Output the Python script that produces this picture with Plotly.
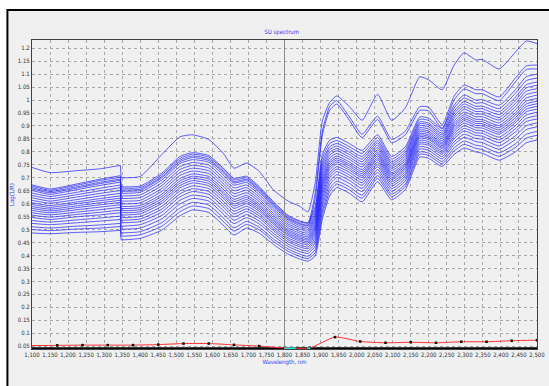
import plotly.graph_objects as go

# Wavelength grid (nm): segment before the detector splice, and after it
wl_seg1 = [1100, 1150, 1220, 1290, 1345]
wl_seg2 = [1347, 1400, 1460, 1510, 1545, 1590, 1630, 1660, 1695, 1730, 1770, 1810,
           1845, 1865, 1885, 1905, 1925, 1945, 1980, 2015, 2058, 2097, 2135, 2175,
           2200, 2237, 2270, 2298, 2330, 2348, 2395, 2440, 2470, 2500]

# Log(1/R) spectra (first 5 values -> wl_seg1, remaining 34 -> wl_seg2)
spec_a = [0.740, 0.720, 0.727, 0.735, 0.748, 0.700, 0.705, 0.790, 0.858, 0.866, 0.848, 0.795, 0.737, 0.757, 0.725, 0.652, 0.610, 0.588, 0.568, 0.680, 0.920, 0.990, 1.016, 0.975, 0.922, 1.022, 0.922, 0.970, 1.090, 1.078, 1.040, 1.135, 1.183, 1.155, 1.157, 1.120, 1.185, 1.228, 1.218]
spec_b1 = [0.668, 0.652, 0.670, 0.690, 0.702, 0.660, 0.662, 0.712, 0.775, 0.791, 0.780, 0.732, 0.692, 0.700, 0.661, 0.602, 0.551, 0.529, 0.525, 0.640, 0.880, 0.975, 0.998, 0.935, 0.868, 0.938, 0.848, 0.880, 0.975, 0.972, 0.905, 1.015, 1.058, 1.040, 1.040, 1.012, 1.085, 1.132, 1.135]
spec_b2 = [0.657, 0.642, 0.659, 0.678, 0.690, 0.648, 0.651, 0.700, 0.762, 0.778, 0.767, 0.720, 0.680, 0.689, 0.650, 0.593, 0.542, 0.520, 0.515, 0.620, 0.865, 0.960, 0.985, 0.922, 0.855, 0.925, 0.835, 0.866, 0.960, 0.958, 0.890, 1.000, 1.043, 1.025, 1.025, 0.998, 1.070, 1.118, 1.120]
spec_01 = [0.673, 0.657, 0.675, 0.695, 0.708, 0.665, 0.668, 0.718, 0.782, 0.797, 0.786, 0.738, 0.698, 0.706, 0.666, 0.607, 0.555, 0.532, 0.527, 0.590, 0.790, 0.845, 0.856, 0.832, 0.806, 0.866, 0.782, 0.820, 0.935, 0.930, 0.890, 0.980, 1.020, 1.000, 1.002, 0.980, 1.040, 1.090, 1.100]
spec_02 = [0.662, 0.647, 0.664, 0.683, 0.695, 0.653, 0.656, 0.705, 0.768, 0.784, 0.773, 0.725, 0.685, 0.694, 0.655, 0.597, 0.546, 0.523, 0.518, 0.578, 0.775, 0.832, 0.844, 0.820, 0.794, 0.855, 0.772, 0.810, 0.926, 0.921, 0.881, 0.969, 1.008, 0.988, 0.990, 0.967, 1.026, 1.075, 1.085]
spec_03 = [0.651, 0.636, 0.653, 0.671, 0.683, 0.640, 0.644, 0.692, 0.755, 0.770, 0.760, 0.711, 0.672, 0.682, 0.644, 0.587, 0.537, 0.514, 0.509, 0.567, 0.760, 0.819, 0.833, 0.809, 0.782, 0.844, 0.762, 0.800, 0.916, 0.911, 0.872, 0.957, 0.995, 0.976, 0.977, 0.955, 1.011, 1.059, 1.070]
spec_04 = [0.641, 0.628, 0.643, 0.660, 0.672, 0.630, 0.634, 0.681, 0.743, 0.759, 0.749, 0.700, 0.661, 0.672, 0.635, 0.579, 0.530, 0.507, 0.502, 0.557, 0.748, 0.808, 0.823, 0.799, 0.772, 0.835, 0.754, 0.792, 0.909, 0.904, 0.865, 0.948, 0.985, 0.966, 0.967, 0.944, 0.999, 1.047, 1.057]
spec_05 = [0.632, 0.619, 0.634, 0.650, 0.662, 0.620, 0.624, 0.670, 0.732, 0.748, 0.738, 0.689, 0.650, 0.662, 0.626, 0.571, 0.522, 0.500, 0.494, 0.548, 0.735, 0.798, 0.813, 0.790, 0.762, 0.826, 0.745, 0.784, 0.901, 0.896, 0.858, 0.938, 0.975, 0.956, 0.956, 0.933, 0.987, 1.034, 1.044]
spec_06 = [0.623, 0.610, 0.625, 0.640, 0.651, 0.610, 0.613, 0.659, 0.720, 0.737, 0.727, 0.678, 0.639, 0.652, 0.617, 0.562, 0.515, 0.492, 0.487, 0.538, 0.723, 0.787, 0.804, 0.780, 0.752, 0.817, 0.737, 0.775, 0.893, 0.888, 0.851, 0.929, 0.965, 0.946, 0.946, 0.923, 0.975, 1.021, 1.031]
spec_07 = [0.613, 0.602, 0.615, 0.630, 0.640, 0.599, 0.603, 0.648, 0.709, 0.726, 0.716, 0.667, 0.628, 0.642, 0.608, 0.554, 0.507, 0.485, 0.479, 0.529, 0.710, 0.776, 0.794, 0.771, 0.742, 0.808, 0.729, 0.767, 0.885, 0.880, 0.843, 0.919, 0.954, 0.936, 0.936, 0.912, 0.963, 1.008, 1.019]
spec_08 = [0.604, 0.593, 0.606, 0.620, 0.630, 0.589, 0.593, 0.637, 0.697, 0.715, 0.705, 0.656, 0.617, 0.632, 0.599, 0.546, 0.500, 0.478, 0.472, 0.519, 0.698, 0.765, 0.784, 0.761, 0.732, 0.799, 0.720, 0.759, 0.878, 0.873, 0.836, 0.910, 0.944, 0.926, 0.925, 0.902, 0.951, 0.996, 1.006]
spec_09 = [0.597, 0.586, 0.599, 0.612, 0.621, 0.581, 0.585, 0.628, 0.688, 0.706, 0.696, 0.647, 0.608, 0.624, 0.592, 0.539, 0.494, 0.472, 0.466, 0.511, 0.688, 0.757, 0.776, 0.753, 0.724, 0.792, 0.714, 0.752, 0.871, 0.866, 0.830, 0.902, 0.936, 0.918, 0.917, 0.893, 0.942, 0.985, 0.996]
spec_10 = [0.589, 0.579, 0.591, 0.604, 0.613, 0.573, 0.577, 0.619, 0.679, 0.698, 0.687, 0.639, 0.599, 0.616, 0.585, 0.533, 0.488, 0.466, 0.460, 0.504, 0.678, 0.748, 0.769, 0.746, 0.716, 0.785, 0.707, 0.746, 0.865, 0.860, 0.824, 0.895, 0.928, 0.910, 0.909, 0.885, 0.932, 0.975, 0.986]
spec_11 = [0.582, 0.572, 0.584, 0.596, 0.605, 0.565, 0.569, 0.610, 0.670, 0.689, 0.678, 0.630, 0.591, 0.608, 0.578, 0.526, 0.482, 0.460, 0.454, 0.496, 0.668, 0.740, 0.761, 0.738, 0.708, 0.777, 0.700, 0.739, 0.859, 0.854, 0.818, 0.887, 0.920, 0.902, 0.901, 0.876, 0.922, 0.965, 0.976]
spec_12 = [0.574, 0.565, 0.576, 0.587, 0.596, 0.556, 0.561, 0.601, 0.661, 0.680, 0.669, 0.621, 0.582, 0.600, 0.571, 0.520, 0.476, 0.454, 0.448, 0.488, 0.658, 0.731, 0.753, 0.730, 0.701, 0.770, 0.693, 0.733, 0.853, 0.848, 0.813, 0.879, 0.911, 0.894, 0.892, 0.868, 0.913, 0.955, 0.965]
spec_13 = [0.565, 0.557, 0.567, 0.577, 0.586, 0.546, 0.551, 0.590, 0.649, 0.669, 0.658, 0.610, 0.571, 0.590, 0.562, 0.511, 0.468, 0.447, 0.441, 0.479, 0.645, 0.720, 0.743, 0.721, 0.691, 0.761, 0.685, 0.724, 0.845, 0.840, 0.805, 0.870, 0.901, 0.884, 0.882, 0.857, 0.901, 0.942, 0.953]
spec_14 = [0.556, 0.548, 0.558, 0.567, 0.575, 0.536, 0.541, 0.579, 0.638, 0.658, 0.647, 0.599, 0.560, 0.580, 0.553, 0.503, 0.461, 0.439, 0.433, 0.469, 0.633, 0.710, 0.734, 0.711, 0.681, 0.752, 0.677, 0.716, 0.837, 0.832, 0.798, 0.860, 0.891, 0.874, 0.872, 0.846, 0.889, 0.929, 0.940]
spec_15 = [0.547, 0.539, 0.549, 0.557, 0.565, 0.526, 0.531, 0.568, 0.626, 0.647, 0.636, 0.588, 0.549, 0.570, 0.544, 0.495, 0.453, 0.432, 0.426, 0.459, 0.620, 0.699, 0.724, 0.701, 0.671, 0.743, 0.668, 0.708, 0.830, 0.825, 0.791, 0.851, 0.881, 0.864, 0.861, 0.836, 0.877, 0.917, 0.927]
spec_16 = [0.535, 0.529, 0.537, 0.545, 0.552, 0.513, 0.519, 0.555, 0.613, 0.633, 0.623, 0.574, 0.536, 0.558, 0.533, 0.485, 0.444, 0.423, 0.417, 0.448, 0.605, 0.686, 0.712, 0.690, 0.659, 0.732, 0.658, 0.698, 0.820, 0.815, 0.782, 0.839, 0.868, 0.852, 0.849, 0.823, 0.862, 0.901, 0.912]
spec_17 = [0.524, 0.519, 0.526, 0.533, 0.539, 0.501, 0.506, 0.542, 0.599, 0.620, 0.610, 0.561, 0.523, 0.546, 0.522, 0.475, 0.435, 0.414, 0.408, 0.436, 0.590, 0.673, 0.701, 0.678, 0.647, 0.721, 0.648, 0.688, 0.811, 0.806, 0.773, 0.828, 0.856, 0.840, 0.836, 0.810, 0.848, 0.886, 0.897]
spec_18 = [0.511, 0.506, 0.513, 0.518, 0.524, 0.487, 0.492, 0.527, 0.583, 0.605, 0.595, 0.546, 0.507, 0.532, 0.509, 0.463, 0.425, 0.404, 0.397, 0.423, 0.573, 0.658, 0.687, 0.665, 0.633, 0.709, 0.637, 0.676, 0.800, 0.795, 0.763, 0.815, 0.842, 0.826, 0.822, 0.796, 0.831, 0.868, 0.879]
spec_19 = [0.500, 0.496, 0.502, 0.506, 0.512, 0.474, 0.480, 0.513, 0.569, 0.591, 0.581, 0.532, 0.494, 0.520, 0.499, 0.454, 0.416, 0.395, 0.388, 0.411, 0.558, 0.645, 0.676, 0.653, 0.621, 0.698, 0.627, 0.667, 0.791, 0.786, 0.754, 0.803, 0.829, 0.814, 0.809, 0.783, 0.817, 0.853, 0.864]
spec_20 = [0.487, 0.484, 0.489, 0.492, 0.497, 0.460, 0.466, 0.498, 0.553, 0.576, 0.566, 0.517, 0.479, 0.506, 0.486, 0.442, 0.405, 0.385, 0.378, 0.398, 0.540, 0.630, 0.662, 0.640, 0.607, 0.685, 0.615, 0.655, 0.780, 0.775, 0.744, 0.790, 0.815, 0.800, 0.795, 0.768, 0.800, 0.835, 0.846]

# Standard-deviation-like curve near the bottom (red, with black point markers)
wl_red = [1100, 1170, 1240, 1310, 1380, 1450, 1520, 1590, 1660, 1730, 1800, 1870,
          1940, 2010, 2080, 2150, 2220, 2290, 2360, 2430, 2500]
red_values = [0.052, 0.053, 0.054, 0.054, 0.054, 0.056, 0.060, 0.060, 0.055, 0.050, 0.043,
              0.043, 0.085, 0.068, 0.063, 0.065, 0.063, 0.067, 0.067, 0.071, 0.073]
wl_black = [1100, 2500]
black_values = [0.0405, 0.0405]
wl_cyan = [1798, 1831, None, 1863, 1872]
cyan_values = [0.0415, 0.0415, None, 0.0415, 0.0415]

x_ticks = list(range(1100, 2501, 50))
cursor_wl = 1800

spectra = [spec_a, spec_b1, spec_b2, spec_01, spec_02, spec_03, spec_04, spec_05, spec_06,
           spec_07, spec_08, spec_09, spec_10, spec_11, spec_12, spec_13, spec_14, spec_15,
           spec_16, spec_17, spec_18, spec_19, spec_20]

BLUE = "rgba(35,35,255,0.72)"
fig = go.Figure()

jx, jy = [], []
for s in spectra:
    fig.add_trace(go.Scatter(x=wl_seg1, y=s[:5], mode="lines", line=dict(color=BLUE, width=1, shape="spline", smoothing=0.5), hoverinfo="skip"))
    fig.add_trace(go.Scatter(x=wl_seg2, y=s[5:], mode="lines", line=dict(color=BLUE, width=1, shape="spline", smoothing=0.5), hoverinfo="skip"))
    jx += [wl_seg1[-1], wl_seg2[0], None]
    jy += [s[4], s[5], None]
fig.add_trace(go.Scatter(x=jx, y=jy, mode="lines", line=dict(color=BLUE, width=1), hoverinfo="skip"))

fig.add_trace(go.Scatter(x=wl_black, y=black_values, mode="lines", line=dict(color="black", width=2.5)))
fig.add_trace(go.Scatter(x=wl_red, y=red_values, mode="lines", line=dict(color="#ff3030", width=1, shape="spline", smoothing=0.6)))
fig.add_trace(go.Scatter(x=wl_red[1:], y=red_values[1:], mode="markers", marker=dict(color="black", size=2.5, symbol="square")))
fig.add_trace(go.Scatter(x=wl_cyan, y=cyan_values, mode="lines", line=dict(color="#20e0e0", width=2)))

TICKFONT = dict(family="DejaVu Sans Condensed, Liberation Sans Narrow, Arial", size=6, color="#333333")
TITLEBLUE = "#3a3af0"

fig.update_layout(
    width=549, height=386,
    margin=dict(l=32, r=4, t=40, b=37),
    paper_bgcolor="white",
    plot_bgcolor="rgba(0,0,0,0)",
    showlegend=False,
    title=dict(text="SD spectrum", x=0.513, xref="container", xanchor="center",
               y=1 - 32 / 386, yref="container", yanchor="middle",
               font=dict(family="DejaVu Sans Condensed, Arial", size=6, color=TITLEBLUE)),
    shapes=[
        dict(type="rect", xref="paper", yref="paper", x0=-0.0487, x1=1.08, y0=-0.16, y1=1.097,
             line=dict(color="black", width=2), fillcolor="#f0f0f0", layer="below"),
        dict(type="line", xref="x", yref="paper", x0=cursor_wl, x1=cursor_wl, y0=0, y1=1,
             line=dict(color="#8a8a8a", width=1), layer="above"),
    ],
)
fig.update_xaxes(range=[1100, 2500], tickvals=x_ticks, tickformat=",d", tickfont=TICKFONT,
                 ticklabeloverflow="allow",
                 showgrid=True, gridcolor="#a8a8a8", griddash="dot", gridwidth=1,
                 showline=True, linecolor="#404040", linewidth=1, mirror=True, ticks="",
                 zeroline=False,
                 title=dict(text="Wavelength, nm", standoff=2,
                            font=dict(family="DejaVu Sans Condensed, Arial", size=6, color=TITLEBLUE)))
fig.update_yaxes(range=[0.039, 1.232], dtick=0.05, tick0=0, tickfont=TICKFONT,
                 showgrid=True, gridcolor="#a8a8a8", griddash="dot", gridwidth=1,
                 showline=True, linecolor="#404040", linewidth=1, mirror=True, ticks="",
                 zeroline=False,
                 title=dict(text="Log(1/R)", standoff=2,
                            font=dict(family="DejaVu Sans Condensed, Arial", size=6, color=TITLEBLUE)))

fig.write_html("out.html")
